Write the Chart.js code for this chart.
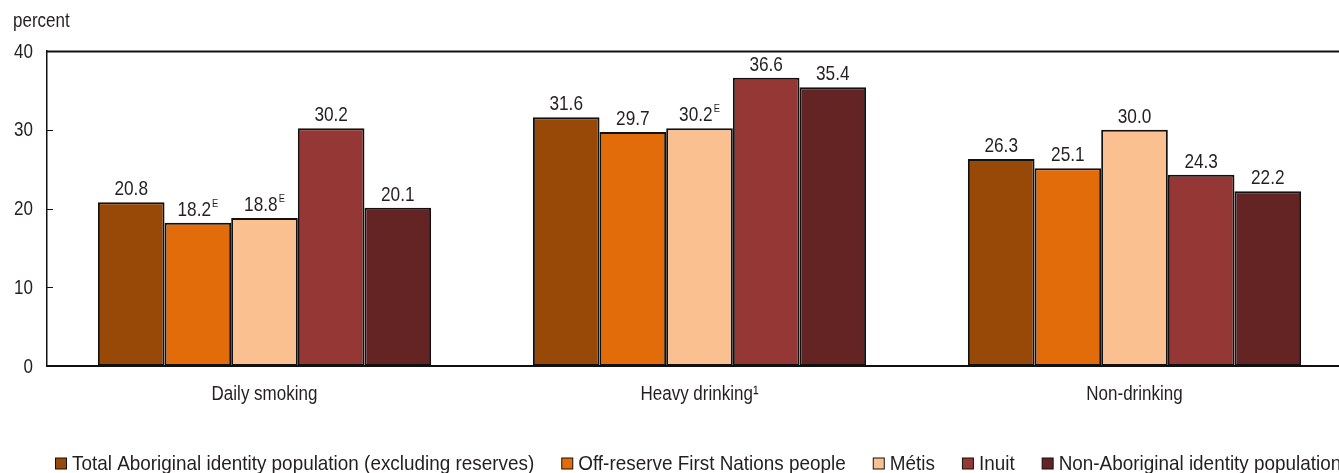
<!DOCTYPE html>
<html>
<head>
<meta charset="utf-8">
<script src="https://cdn.jsdelivr.net/npm/chart.js@4.4.1/dist/chart.umd.min.js"></script>
<style>
  html, body { margin: 0; padding: 0; background: #fff; overflow: hidden; }
  #wrap { position: relative; width: 1360px; height: 473px; }
</style>
</head>
<body>
<div id="wrap"><canvas id="c"></canvas></div>
<script>
// Categories and series
const categories = ['Daily smoking', 'Heavy drinking\u00B9', 'Non-drinking'];
const seriesNames = [
  'Total Aboriginal identity population (excluding reserves)',
  'Off-reserve First Nations people',
  'M\u00E9tis',
  'Inuit',
  'Non-Aboriginal identity population'
];
const totalAboriginal = [20.8, 31.6, 26.3];
const offReserveFN   = [18.2, 29.7, 25.1];
const metis          = [18.8, 30.2, 30.0];
const inuit          = [30.2, 36.6, 24.3];
const nonAboriginal  = [20.1, 35.4, 22.2];
// "E" = use with caution
const totalAboriginalE = [false, false, false];
const offReserveFNE    = [true, false, false];
const metisE           = [true, true, false];
const inuitE           = [false, false, false];
const nonAboriginalE   = [false, false, false];
const yTicks = [0, 10, 20, 30, 40];

const colors = ['#984807', '#E36C0A', '#FAC090', '#953735', '#632423'];
const FONT = '"Liberation Sans", Arial, sans-serif';
const TXT = '#231f20';
const SIZE = 20;        // text size
const SQUEEZE = 0.85;   // horizontal condensing of text
const VAL_SIZE = 21;
const VAL_SQUEEZE = 0.82;
const LEG_SIZE = 21;
const LEG_SQUEEZE = 0.9;

const values = [totalAboriginal, offReserveFN, metis, inuit, nonAboriginal];
const flags = [totalAboriginalE, offReserveFNE, metisE, inuitE, nonAboriginalE];

const datasets = values.map((v, i) => ({
  label: seriesNames[i],
  data: v,
  flags: flags[i],
  backgroundColor: colors[i],
  borderColor: '#111',
  borderWidth: 2,
  borderSkipped: false,
  categoryPercentage: 0.766,
  barPercentage: 1.0
}));

// Condensed text helpers
function textWidth(ctx, s, size, sq) {
  ctx.font = size + 'px ' + FONT;
  return ctx.measureText(s).width * (sq || SQUEEZE);
}
function drawText(ctx, s, x, y, size, align, baseline, sq) {
  sq = sq || SQUEEZE;
  const w = textWidth(ctx, s, size, sq);
  let x0 = x;
  if (align === 'center') x0 = x - w / 2;
  else if (align === 'right') x0 = x - w;
  ctx.save();
  ctx.font = size + 'px ' + FONT;
  ctx.textAlign = 'left';
  ctx.textBaseline = baseline || 'alphabetic';
  ctx.fillStyle = TXT;
  ctx.translate(x0, y);
  ctx.scale(sq, 1);
  ctx.fillText(s, 0, 0);
  ctx.restore();
  return w;
}

// Value labels above bars, with superscript E where flagged
const valueLabels = {
  id: 'valueLabels',
  afterDatasetsDraw(chart) {
    const ctx = chart.ctx;
    chart.data.datasets.forEach((ds, di) => {
      const meta = chart.getDatasetMeta(di);
      meta.data.forEach((bar, i) => {
        const txt = ds.data[i].toFixed(1);
        const w = textWidth(ctx, txt, VAL_SIZE, VAL_SQUEEZE);
        const sw = ds.flags[i] ? textWidth(ctx, 'E', 11) + 1 : 0;
        const x0 = bar.x - (w + sw) / 2;
        const yb = bar.y - 7;
        drawText(ctx, txt, x0, yb, VAL_SIZE, 'left', 'alphabetic', VAL_SQUEEZE);
        if (ds.flags[i]) drawText(ctx, 'E', x0 + w + 1, yb - 9, 11, 'left');
      });
    });
  }
};

// Frame: top rule, inward y ticks, tick labels, axis title, legend
const frame = {
  id: 'frame',
  afterDraw(chart) {
    const ctx = chart.ctx;
    const a = chart.chartArea;
    const ys = chart.scales.y;
    const xs = chart.scales.x;
    ctx.save();
    ctx.strokeStyle = '#111';
    // top rule at the axis maximum
    ctx.lineWidth = 2;
    ctx.beginPath();
    const yt = Math.round(ys.getPixelForValue(40)) + 0.5;
    ctx.moveTo(a.left - 1, yt);
    ctx.lineTo(chart.width, yt);
    ctx.stroke();
    // inward tick marks
    ctx.lineWidth = 1;
    yTicks.forEach(t => {
      if (t === 0 || t === 40) return;
      const y = Math.round(ys.getPixelForValue(t)) + 0.5;
      ctx.beginPath();
      ctx.moveTo(a.left, y);
      ctx.lineTo(a.left + 6, y);
      ctx.stroke();
    });
    ctx.restore();
    // y tick labels
    yTicks.forEach(t => {
      drawText(ctx, String(t), 33, ys.getPixelForValue(t) + 1, SIZE, 'right', 'middle');
    });
    // category labels
    categories.forEach((c, i) => {
      drawText(ctx, c, xs.getPixelForTick(i), 400, SIZE, 'center');
    });
    // axis title
    drawText(ctx, 'percent', 13, 27, SIZE, 'left');
    // legend
    const boxS = 11, gapBox = 6, gapItem = 27;
    let x = 55;
    const yc = 463;
    chart.data.datasets.forEach(ds => {
      ctx.save();
      ctx.fillStyle = ds.backgroundColor;
      ctx.fillRect(x + 0.5, yc - boxS / 2 + 0.5, boxS, boxS);
      ctx.strokeStyle = '#111';
      ctx.lineWidth = 1;
      ctx.strokeRect(x + 0.5, yc - boxS / 2 + 0.5, boxS, boxS);
      ctx.restore();
      const w = drawText(ctx, ds.label, x + boxS + gapBox, yc + 7, LEG_SIZE, 'left', 'alphabetic', LEG_SQUEEZE);
      x += boxS + gapBox + w + gapItem;
    });
  }
};

new Chart(document.getElementById('c'), {
  type: 'bar',
  data: { labels: categories, datasets },
  options: {
    responsive: true,
    maintainAspectRatio: false,
    animation: false,
    devicePixelRatio: 1,
    layout: { padding: { top: 51, right: 8, left: 0, bottom: 0 } },
    plugins: { legend: { display: false }, tooltip: { enabled: false } },
    scales: {
      x: {
        offset: true,
        grid: { display: false, drawTicks: false },
        border: { display: true, color: '#111', width: 2 },
        ticks: { display: false },
        afterFit: s => { s.height = 107; }
      },
      y: {
        min: 0, max: 40,
        afterBuildTicks: s => { s.ticks = yTicks.map(v => ({ value: v })); },
        grid: { display: false, drawTicks: false },
        border: { display: true, color: '#111', width: 1.5 },
        ticks: { display: false },
        afterFit: s => { s.width = 47; }
      }
    }
  },
  plugins: [valueLabels, frame]
});
</script>
</body>
</html>
